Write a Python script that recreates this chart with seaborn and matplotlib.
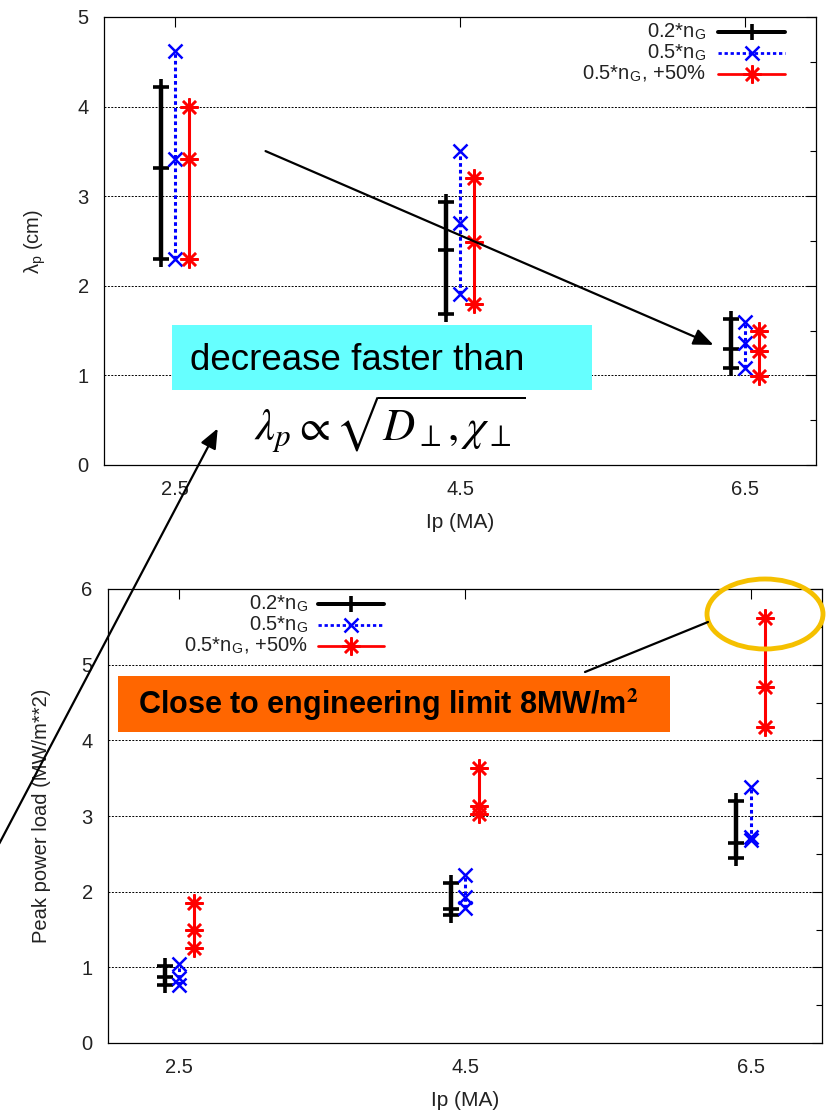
import numpy as np
import pandas as pd
import matplotlib
matplotlib.use("Agg")
import matplotlib.pyplot as plt
import seaborn as sns
from matplotlib.lines import Line2D
from matplotlib.patches import Rectangle, Ellipse, FancyArrowPatch

sns.set_theme(style="white")
plt.rcParams['font.family'] = ['Liberation Sans', 'DejaVu Sans']
plt.rcParams['mathtext.fontset'] = 'stix'

# ---------------- data ----------------
ip_values = [2.5, 4.5, 6.5]
series_names = ["0.2*n$_{\\mathregular{G}}$", "0.5*n$_{\\mathregular{G}}$", "0.5*n$_{\\mathregular{G}}$, +50%"]

# lambda_p (cm): three values per Ip for each series
lam_02 = [[2.3, 3.31, 4.22], [1.69, 2.40, 2.94], [1.08, 1.29, 1.63]]
lam_05 = [[2.3, 3.42, 4.62], [1.91, 2.70, 3.50], [1.08, 1.36, 1.60]]
lam_05p = [[2.3, 3.42, 4.0], [1.80, 2.49, 3.20], [0.99, 1.27, 1.50]]

# peak power load (MW/m^2)
ppl_02 = [[0.77, 0.87, 1.02], [1.69, 1.77, 2.12], [2.45, 2.64, 3.20]]
ppl_05 = [[0.76, 0.86, 1.05], [1.78, 1.93, 2.22], [2.68, 2.72, 3.38]]
ppl_05p = [[1.25, 1.49, 1.85], [3.03, 3.13, 3.64], [4.17, 4.71, 5.62]]

# ---------------- styles ----------------
W, H = 826, 1110
offsets = [-0.1, 0.0, 0.1]
styles = [
    dict(color="black", marker="+", markersize=12, markeredgewidth=2.6, linewidth=3.2, linestyle="-"),
    dict(color="#0000FF", marker="x", markersize=10, markeredgewidth=1.8, linewidth=2.2, linestyle=(0, (1.2, 1.0))),
    dict(color="#FF0000", marker=(8, 2, 0), markersize=13, markeredgewidth=1.8, linewidth=2.2, linestyle="-"),
]


def make_df(arrs):
    rows = []
    for s, arr in enumerate(arrs):
        for i, ip in enumerate(ip_values):
            for v in arr[i]:
                rows.append(dict(series=s, x=ip + offsets[s], y=v, group=i))
    return pd.DataFrame(rows)


def draw_panel(ax, arrs, ymax, ylabel):
    df = make_df(arrs)
    for s in range(3):
        sub = df[df.series == s]
        st = styles[s]
        sns.lineplot(data=sub, x="x", y="y", units="group", estimator=None, sort=False,
                     ax=ax, legend=False, color=st["color"], marker=st["marker"],
                     markersize=st["markersize"], markeredgewidth=st["markeredgewidth"],
                     markeredgecolor=st["color"], linewidth=st["linewidth"],
                     linestyle=st["linestyle"])
    ax.set_xlim(2.0, 7.0)
    ax.set_ylim(0, ymax)
    ax.set_xticks(ip_values)
    ax.set_xticklabels([str(v) for v in ip_values])
    ax.set_yticks(np.arange(0, ymax + 1, 1))
    ax.set_yticks(np.arange(0.5, ymax, 1.0), minor=True)
    ax.tick_params(axis="both", which="both", direction="in", top=True, right=True,
                   labelsize=14.5, colors="black", labelcolor="#222222", pad=11)
    ax.tick_params(axis="both", which="major", length=7, width=0.8)
    ax.tick_params(axis="y", which="minor", length=4, width=0.8)
    ax.yaxis.grid(True, which="major", linestyle=(0, (2, 1.5)), color="black", linewidth=0.7)
    ax.xaxis.grid(False)
    for sp in ax.spines.values():
        sp.set_color("black")
        sp.set_linewidth(0.9)
    ax.set_xlabel("Ip (MA)", fontsize=15, color="#222222", labelpad=10)
    ax.set_ylabel(ylabel, fontsize=14.5, color="#222222")


def legend_rows(fig, text_right_px, line_px, rows_px):
    for s in range(3):
        y = 1 - rows_px[s] / H
        fig.text(text_right_px / W, y, series_names[s], ha="right", va="center",
                 fontsize=14.5, color="#222222")
        st = styles[s]
        x0, x1 = line_px[0] / W, line_px[1] / W
        fig.add_artist(Line2D([x0, x1], [y, y], transform=fig.transFigure,
                              color=st["color"], linewidth=st["linewidth"] * 0.9,
                              linestyle=st["linestyle"]))
        fig.add_artist(Line2D([(x0 + x1) / 2], [y], transform=fig.transFigure,
                              color=st["color"], marker=st["marker"],
                              markersize=st["markersize"], markeredgewidth=st["markeredgewidth"],
                              linestyle="none"))


fig = plt.figure(figsize=(W / 100, H / 100), dpi=100)
fig.patch.set_facecolor("white")

ax1 = fig.add_axes([104 / W, 1 - 465 / H, (816 - 104) / W, (465 - 17) / H])
ax2 = fig.add_axes([108 / W, 1 - 1043 / H, (822 - 108) / W, (1043 - 589) / H])

draw_panel(ax1, [lam_02, lam_05, lam_05p], 5, "$\\mathregular{\\lambda_p}$ (cm)")
draw_panel(ax2, [ppl_02, ppl_05, ppl_05p], 6, "Peak power load (MW/m**2)")
ax1.yaxis.set_label_coords(-0.078, 0.5)
ax2.yaxis.set_label_coords(-0.08, 0.5)

legend_rows(fig, 706, (718, 785), (32, 53, 74))
legend_rows(fig, 308, (318, 384), (604, 625, 646))


def fp(x, y):
    return (x / W, 1 - y / H)


# cyan box with text
fig.add_artist(Rectangle(fp(172, 390), (592 - 172) / W, (390 - 325) / H,
                         transform=fig.transFigure, facecolor="#66FFFF", edgecolor="none", zorder=5))
fig.text(*fp(190, 360), "decrease faster than", ha="left", va="center", fontsize=26.5,
         color="black", zorder=6)
fig.text(*fp(390, 424), r"$\lambda_p \propto \sqrt{D_\perp, \chi_\perp}$", ha="center",
         va="center", fontsize=32, color="black", zorder=6)

# orange box
fig.add_artist(Rectangle(fp(118, 732), (670 - 118) / W, (732 - 676) / H,
                         transform=fig.transFigure, facecolor="#FF6600", edgecolor="none", zorder=5))
fig.text(*fp(138, 705), r"Close to engineering limit 8MW/m$^{\mathbf{2}}$", ha="left",
         va="center", fontsize=22, fontweight="bold", color="black", zorder=6)

# ellipse
fig.add_artist(Ellipse(fp(765, 614), 116 / W, 70 / H, transform=fig.transFigure,
                       facecolor="none", edgecolor="#F5C000", linewidth=3.5, zorder=6))

# arrows / lines
fig.add_artist(FancyArrowPatch(fp(263, 150), fp(716, 346), transform=fig.transFigure,
                               arrowstyle="-|>,head_length=12,head_width=5", mutation_scale=1,
                               color="black", linewidth=1.6, zorder=7))
fig.add_artist(FancyArrowPatch(fp(-2, 846), fp(219, 426), transform=fig.transFigure,
                               arrowstyle="-|>,head_length=12,head_width=5", mutation_scale=1,
                               color="black", linewidth=1.6, zorder=7))
fig.add_artist(Line2D([585 / W, 708 / W], [1 - 672 / H, 1 - 622 / H], transform=fig.transFigure,
                      color="black", linewidth=1.6, zorder=7))

fig.savefig("out.png", dpi=100, facecolor="white")
